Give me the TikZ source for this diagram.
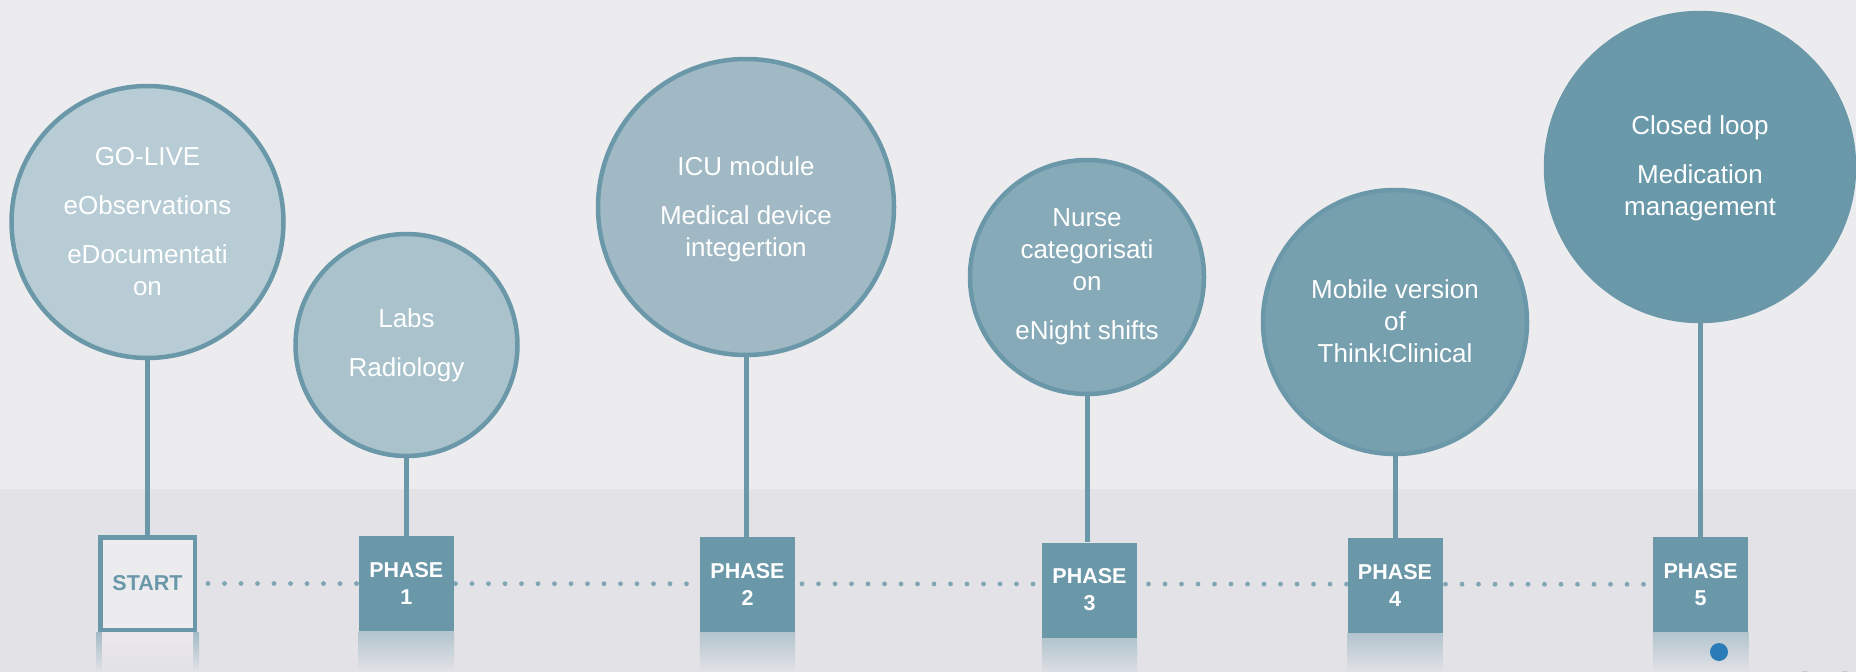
\documentclass[tikz,border=0pt]{standalone}
\usepackage{fontspec}
\setmainfont{Liberation Sans}
\pgfdeclarelayer{bg}
\pgfdeclarelayer{mid}
\pgfsetlayers{bg,mid,main}
\definecolor{topbg}{RGB}{236,236,239}
\definecolor{bandbg}{RGB}{226,226,231}
\definecolor{steel}{RGB}{106,152,169}
\definecolor{dotc}{RGB}{128,166,180}
\definecolor{reflc}{RGB}{178,196,205}
\definecolor{reflin}{RGB}{236,231,234}
\definecolor{cA}{RGB}{183,204,212}
\definecolor{cB}{RGB}{169,194,204}
\definecolor{cC}{RGB}{160,185,196}
\definecolor{cD}{RGB}{134,170,184}
\definecolor{cE}{RGB}{119,160,175}
\definecolor{cF}{RGB}{106,153,170}
\definecolor{bluedot}{RGB}{43,123,182}
\tikzset{
  bubble/.style={circle, draw=steel, line width=4.5pt, inner sep=0pt},
  phasebox/.style={rectangle, fill=steel, minimum width=95pt, minimum height=95pt,
    inner sep=0pt, text=white, align=center, font=\fontsize{21.5}{27}\selectfont\bfseries},
  startbox/.style={rectangle, draw=steel, fill=topbg, line width=4.5pt,
    minimum width=94.5pt, minimum height=92.5pt, inner sep=0pt, text=steel,
    font=\fontsize{21.5}{27}\selectfont\bfseries},
  ctext/.style={anchor=north, text=white, align=center, inner sep=0pt,
    font=\fontsize{26}{32}\selectfont},
  stem/.style={draw=steel, line width=5pt},
  dotline/.style={draw=dotc, line width=4.8pt, line cap=round, dash pattern=on 0pt off 16.5pt},
  refl/.style={top color=reflc, bottom color=bandbg}
}
\begin{document}
\begin{tikzpicture}[x=1pt, y=-1pt]
\useasboundingbox (0,0) rectangle (1856,672);
\begin{pgfonlayer}{bg}
  \fill[topbg] (0,0) rectangle (1856,489);
  \fill[bandbg] (0,489) rectangle (1856,672);
\end{pgfonlayer}

% bubbles
\node[bubble, fill=cA, minimum size=272pt] (c1) at (147.5,222) {};
\node[bubble, fill=cB, minimum size=222pt] (c2) at (406.5,345) {};
\node[bubble, fill=cC, minimum size=296pt] (c3) at (746,207) {};
\node[bubble, fill=cD, minimum size=234pt] (c4) at (1087,277) {};
\node[bubble, fill=cE, minimum size=264pt] (c5) at (1395,322) {};
\node[bubble, fill=cF, minimum size=308pt] (c6) at (1700,167) {};

% bubble texts
\node[ctext] (t1) at (147.5,147) {GO-LIVE\\[17pt]eObservations\\[17pt]eDocumentati\\on};
\node[ctext] (t2) at (406.5,308.5) {Labs\\[17pt]Radiology};
\node[ctext] (t3) at (746,156.5) {ICU module\\[17pt]Medical device\\integertion};
\node[ctext] (t4) at (1087,208.5) {Nurse\\categorisati\\on\\[17pt]eNight shifts};
\node[ctext] (t5) at (1395,279.5) {Mobile version\\of\\Think!Clinical};
\node[ctext] (t6) at (1700,115.5) {Closed loop\\[17pt]Medication\\management};

% boxes
\node[startbox] (s0) at (147.5,583.5) {START};
\node[phasebox] (p1) at (406.3,583.5) {PHASE\\1};
\node[phasebox] (p2) at (747.5,584.3) {PHASE\\2};
\node[phasebox] (p3) at (1089.5,590) {PHASE\\3};
\node[phasebox] (p4) at (1395,585.3) {PHASE\\4};
\node[phasebox] (p5) at (1700.6,584.3) {PHASE\\5};

\begin{pgfonlayer}{mid}
  % reflections
  \shade[top color=reflc!80!steel, bottom color=bandbg]
    ([xshift=-2pt]s0.south west) rectangle ([xshift=2pt,yshift=-40pt]s0.south east);
  \shade[top color=reflin, bottom color=bandbg]
    ([xshift=4pt]s0.south west) rectangle ([xshift=-4pt,yshift=-40pt]s0.south east);
  \foreach \b in {p1,p2,p3,p4,p5}{
    \shade[refl] (\b.south west) rectangle ([yshift=-40pt]\b.south east);
  }
  % dotted timeline
  \draw[dotline] ([xshift=11pt]s0.east) -- (p5.west);
  % stems
  \draw[stem] (c1.south) -- (c1.south |- s0.north);
  \draw[stem] (c2.south) -- (c2.south |- p1.north);
  \draw[stem] (c3.south) -- (c3.south |- p2.north);
  \draw[stem] (c4.south) -- (c4.south |- p3.north);
  \draw[stem] (c5.south) -- (c5.south |- p4.north);
  \draw[stem] (c6.south) -- (c6.south |- p5.north);
\end{pgfonlayer}

% small marks at the bottom
\fill[bluedot] (1719,652) circle (9);
\fill[gray!45] (1805,682) circle (11);
\fill[gray!45] (1845,682) circle (11);
\end{tikzpicture}
\end{document}
